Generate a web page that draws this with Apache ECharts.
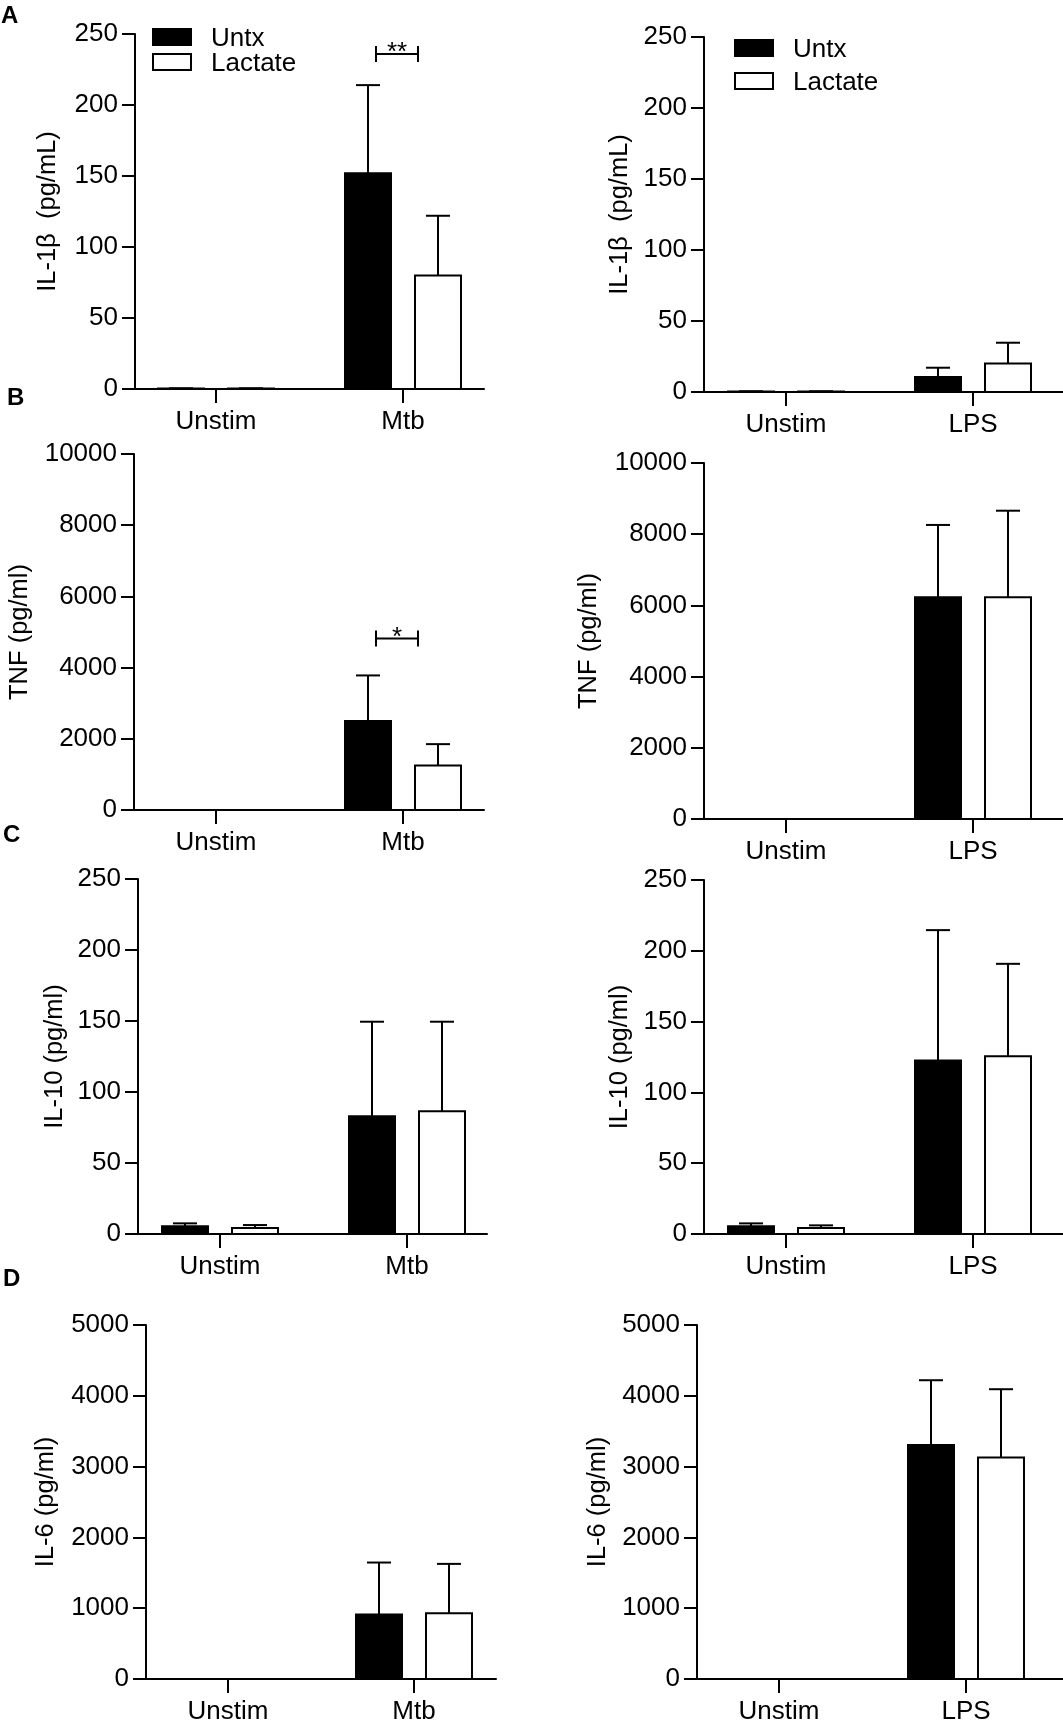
<!DOCTYPE html>
<html>
<head>
<meta charset="utf-8">
<title>Cytokines</title>
<script src="https://cdn.jsdelivr.net/npm/echarts@6/dist/echarts.min.js"></script>
<style>
  html, body { margin: 0; padding: 0; background: #fff; }
  #chart { width: 1063px; height: 1721px; }
</style>
</head>
<body>
<div id="chart"></div>
<script>
// 类别
var cats1 = ['Unstim', 'Mtb'];
var cats2 = ['Unstim', 'LPS'];

// 均值 + 误差（上方）
var il1bMtbUntx = [0.3, 152],  il1bMtbUntxSd = [0.2, 62];
var il1bMtbLac  = [0.3, 80],   il1bMtbLacSd  = [0.2, 42];
var il1bLpsUntx = [0.3, 10.6], il1bLpsUntxSd = [0.2, 6.5];
var il1bLpsLac  = [0.3, 20],   il1bLpsLacSd  = [0.2, 14.7];

var tnfMtbUntx = [0, 2500], tnfMtbUntxSd = [0, 1280];
var tnfMtbLac  = [0, 1250], tnfMtbLacSd  = [0, 600];
var tnfLpsUntx = [0, 6230], tnfLpsUntxSd = [0, 2030];
var tnfLpsLac  = [0, 6230], tnfLpsLacSd  = [0, 2430];

var il10MtbUntx = [5.4, 83],    il10MtbUntxSd = [2.1, 66.5];
var il10MtbLac  = [4.2, 86.4],  il10MtbLacSd  = [2.1, 63.1];
var il10LpsUntx = [5.4, 122.6], il10LpsUntxSd = [2.1, 92];
var il10LpsLac  = [4.2, 125.5], il10LpsLacSd  = [1.9, 65.3];

var il6MtbUntx = [0, 912],  il6MtbUntxSd = [0, 733];
var il6MtbLac  = [0, 930],  il6MtbLacSd  = [0, 696];
var il6LpsUntx = [0, 3304], il6LpsUntxSd = [0, 916];
var il6LpsLac  = [0, 3130], il6LpsLacSd  = [0, 963];

// y 轴刻度 [max, interval]
var il1bTicks = [250, 50];
var tnfTicks = [10000, 2000];
var il10Ticks = [250, 50];
var il6Ticks = [5000, 1000];

// 显著性标记 [类别, y 值, 文本]
var il1bSig = [[1, 236, '**']];
var tnfSig = [[1, 4820, '*']];

var FONT = 'Liberation Sans, Arial, Helvetica, sans-serif';

// 面板布局（像素）
var panels = [
    { L: 135, R: 484, T: 34, B: 389, t0: 216, t1: 403, cats: cats1, untx: il1bMtbUntx, untxSd: il1bMtbUntxSd, lac: il1bMtbLac, lacSd: il1bMtbLacSd, ticks: il1bTicks, title: 'IL-1β  (pg/mL)', gap: 74, sig: il1bSig },
    { L: 704, R: 1063, T: 37, B: 392, t0: 786, t1: 973, cats: cats2, untx: il1bLpsUntx, untxSd: il1bLpsUntxSd, lac: il1bLpsLac, lacSd: il1bLpsLacSd, ticks: il1bTicks, title: 'IL-1β  (pg/mL)', gap: 71 },
    { L: 134, R: 484, T: 454, B: 810, t0: 216, t1: 403, cats: cats1, untx: tnfMtbUntx, untxSd: tnfMtbUntxSd, lac: tnfMtbLac, lacSd: tnfMtbLacSd, ticks: tnfTicks, title: 'TNF (pg/ml)', gap: 101, sig: tnfSig },
    { L: 704, R: 1063, T: 463, B: 819, t0: 786, t1: 973, cats: cats2, untx: tnfLpsUntx, untxSd: tnfLpsUntxSd, lac: tnfLpsLac, lacSd: tnfLpsLacSd, ticks: tnfTicks, title: 'TNF (pg/ml)', gap: 102 },
    { L: 138, R: 487, T: 879, B: 1234, t0: 220, t1: 407, cats: cats1, untx: il10MtbUntx, untxSd: il10MtbUntxSd, lac: il10MtbLac, lacSd: il10MtbLacSd, ticks: il10Ticks, title: 'IL-10 (pg/ml)', gap: 70 },
    { L: 704, R: 1063, T: 880, B: 1234, t0: 786, t1: 973, cats: cats2, untx: il10LpsUntx, untxSd: il10LpsUntxSd, lac: il10LpsLac, lacSd: il10LpsLacSd, ticks: il10Ticks, title: 'IL-10 (pg/ml)', gap: 71 },
    { L: 146, R: 496, T: 1325, B: 1679, t0: 228, t1: 414, cats: cats1, untx: il6MtbUntx, untxSd: il6MtbUntxSd, lac: il6MtbLac, lacSd: il6MtbLacSd, ticks: il6Ticks, title: 'IL-6 (pg/ml)', gap: 87 },
    { L: 697, R: 1063, T: 1325, B: 1679, t0: 779, t1: 966, cats: cats2, untx: il6LpsUntx, untxSd: il6LpsUntxSd, lac: il6LpsLac, lacSd: il6LpsLacSd, ticks: il6Ticks, title: 'IL-6 (pg/ml)', gap: 86 }
];

function zip(vals, sds) {
    return vals.map(function (v, i) { return [i, v, sds[i]]; });
}

// 柱 + 误差线
function barRenderer(dx, fill) {
    return function (params, api) {
        var x = api.value(0), v = api.value(1), sd = api.value(2);
        var base = api.coord([x, 0]);
        var top = api.coord([x, v]);
        var tip = api.coord([x, v + sd]);
        var cx = base[0] + dx;
        var kids = [];
        if (v > 0) {
            kids.push({
                type: 'rect',
                shape: { x: cx - 23, y: top[1], width: 46, height: base[1] - top[1] },
                style: { fill: fill, stroke: '#000', lineWidth: 2 }
            });
        }
        if (sd > 0) {
            kids.push({ type: 'line', shape: { x1: cx, y1: top[1], x2: cx, y2: tip[1] }, style: { stroke: '#000', lineWidth: 2 } });
            kids.push({ type: 'line', shape: { x1: cx - 12, y1: tip[1], x2: cx + 12, y2: tip[1] }, style: { stroke: '#000', lineWidth: 2 } });
        }
        return { type: 'group', children: kids };
    };
}

function sigRenderer(params, api) {
    var p = api.coord([api.value(0), api.value(1)]);
    var x1 = p[0] - 27, x2 = p[0] + 15, y = p[1];
    var ls = { stroke: '#000', lineWidth: 2 };
    return {
        type: 'group',
        children: [
            { type: 'line', shape: { x1: x1, y1: y, x2: x2, y2: y }, style: ls },
            { type: 'line', shape: { x1: x1, y1: y - 8, x2: x1, y2: y + 8 }, style: ls },
            { type: 'line', shape: { x1: x2, y1: y - 8, x2: x2, y2: y + 8 }, style: ls },
            { type: 'text', style: { text: api.value(2), x: (x1 + x2) / 2, y: y - 14, align: 'center', verticalAlign: 'top', font: '26px ' + FONT, fill: '#000' } }
        ]
    };
}

var grid = [], xAxis = [], yAxis = [], series = [];
panels.forEach(function (p, i) {
    var unit = p.t1 - p.t0;
    grid.push({ left: p.L, top: p.T, width: p.R - p.L, height: p.B - p.T, containLabel: false, outerBoundsMode: 'none' });
    xAxis.push({
        type: 'value', gridIndex: i,
        min: (p.L - p.t0) / unit, max: (p.R - p.t0) / unit,
        axisLine: { onZero: false, lineStyle: { color: '#000', width: 2 } },
        axisTick: { show: true, customValues: [0, 1], length: 14, lineStyle: { color: '#000', width: 2 } },
        axisLabel: {
            customValues: [0, 1], margin: 20, color: '#000', fontSize: 26, fontFamily: FONT,
            formatter: (function (cats) { return function (v) { return cats[Math.round(v)]; }; })(p.cats)
        },
        splitLine: { show: false }
    });
    yAxis.push({
        type: 'value', gridIndex: i,
        min: 0, max: p.ticks[0], interval: p.ticks[1],
        name: p.title, nameLocation: 'middle', nameGap: p.gap,
        nameTextStyle: { color: '#000', fontSize: 25.5, fontFamily: FONT, lineHeight: 26 },
        axisLine: { show: true, onZero: false, lineStyle: { color: '#000', width: 2 } },
        axisTick: { show: true, length: 13, lineStyle: { color: '#000', width: 2 } },
        axisLabel: { margin: 17, color: '#000', fontSize: 26, fontFamily: FONT, formatter: function (v) { return String(v); } },
        splitLine: { show: false }
    });
    series.push({
        name: 'Untx', type: 'custom', xAxisIndex: i, yAxisIndex: i,
        itemStyle: { color: '#000' },
        renderItem: barRenderer(-35, '#000'),
        encode: { x: 0, y: 1 },
        data: zip(p.untx, p.untxSd)
    });
    series.push({
        name: 'Lactate', type: 'custom', xAxisIndex: i, yAxisIndex: i,
        itemStyle: { color: '#fff', borderColor: '#000' },
        renderItem: barRenderer(35, '#fff'),
        encode: { x: 0, y: 1 },
        data: zip(p.lac, p.lacSd)
    });
    if (p.sig) {
        series.push({
            name: 'sig' + i, type: 'custom', xAxisIndex: i, yAxisIndex: i,
            renderItem: sigRenderer,
            encode: { x: 0, y: 1 },
            data: p.sig
        });
    }
});

var legendStyles = {
    Untx: { color: '#000', borderColor: '#000', borderWidth: 2 },
    Lactate: { color: '#fff', borderColor: '#000', borderWidth: 2 }
};

// 每个图例项单独放置
function legendItem(name, left, top) {
    return {
        left: left, top: top, padding: 0, selectedMode: false,
        itemWidth: 38, itemHeight: 16,
        formatter: function (n) { return '{g|}' + n; },
        textStyle: { color: '#000', fontSize: 26, fontFamily: FONT, padding: [4, 0, 0, 0], rich: { g: { width: 15 } } },
        data: [{ name: name, icon: 'rect', itemStyle: legendStyles[name] }]
    };
}

function letter(t, x, y) {
    return { type: 'text', left: x, top: y, style: { text: t, font: 'bold 24px ' + FONT, fill: '#000' } };
}

var myChart = echarts.init(document.getElementById('chart'));
var option = {
    backgroundColor: '#fff',
    animation: false,
    legend: [
        legendItem('Untx', 152, 26),
        legendItem('Lactate', 152, 51),
        legendItem('Untx', 734, 37),
        legendItem('Lactate', 734, 70)
    ],
    graphic: [
        letter('A', 1, 4),
        letter('B', 7, 386),
        letter('C', 3, 823),
        letter('D', 3, 1267)
    ],
    grid: grid,
    xAxis: xAxis,
    yAxis: yAxis,
    series: series
};
myChart.setOption(option);
</script>
</body>
</html>
